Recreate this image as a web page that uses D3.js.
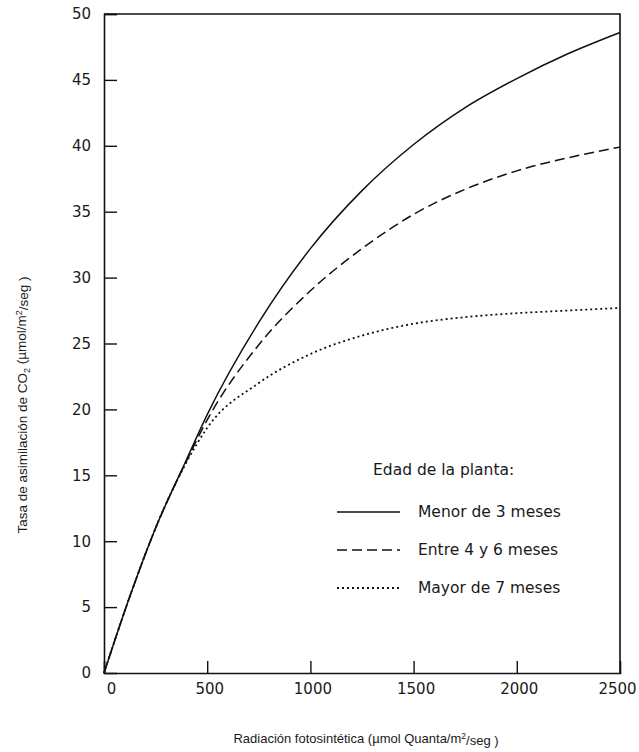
<!DOCTYPE html>
<html>
<head>
<meta charset="utf-8">
<script src="https://cdn.jsdelivr.net/npm/d3@7"></script>
<style>
  body { margin: 0; background: #fff; }
  text { font-family: "Liberation Sans", Arial, sans-serif; fill: #1a1a1a; }
</style>
</head>
<body>
<div id="chart"></div>
<script>
// radiation values (x) and CO2 assimilation for each plant age
var radiacion = [0, 125, 250, 400, 500, 750, 1000, 1250, 1500, 1750, 2000, 2250, 2500];
var menor3 = [0, 5.8, 11, 16.2, 19.6, 26.6, 32.2, 36.6, 40.1, 42.9, 45.1, 47.0, 48.6];
var entre4y6 = [0, 5.8, 11, 16.1, 19.2, 24.9, 29.0, 32.2, 34.8, 36.7, 38.1, 39.1, 39.9];
var mayor7 = [0, 5.8, 11, 16.0, 18.6, 22.0, 24.2, 25.6, 26.5, 27.0, 27.3, 27.5, 27.7];

var xTicks = [0, 500, 1000, 1500, 2000, 2500];
var yTicks = [0, 5, 10, 15, 20, 25, 30, 35, 40, 45, 50];

var seriesNames = ["Menor de 3 meses", "Entre 4 y 6 meses", "Mayor de 7 meses"];
var seriesDash = [null, "10,5", "2,3"];

var width = 639,
    height = 752,
    margin = {top: 14, right: 19, bottom: 79, left: 104};

var svg = d3.select("#chart").append("svg")
    .attr("width", width)
    .attr("height", height);

var g = svg.append("g")
    .attr("transform", "translate(" + margin.left + "," + margin.top + ")");

var w = width - margin.left - margin.right,
    h = height - margin.top - margin.bottom;

var x = d3.scaleLinear().domain([0, 2500]).range([0, w]);
var y = d3.scaleLinear().domain([0, 50]).range([h, 0]);

var tickFont = "'DejaVu Sans', Verdana, sans-serif";

// axes with ticks pointing inward
var yAxis = g.append("g")
    .call(d3.axisLeft(y).tickValues(yTicks).tickFormat(d3.format("d")).tickSize(-13).tickPadding(13));
var xAxis = g.append("g")
    .attr("transform", "translate(0," + h + ")")
    .call(d3.axisBottom(x).tickValues(xTicks).tickFormat(d3.format("d")).tickSize(-12).tickPadding(10));

[yAxis, xAxis].forEach(function(a) {
    a.select(".domain").attr("stroke", "#111").attr("stroke-width", 1.6);
    a.selectAll(".tick line").attr("stroke", "#111").attr("stroke-width", 1.4);
    a.selectAll(".tick text")
        .style("font-family", tickFont)
        .style("font-size", "15px")
        .attr("fill", "#1a1a1a");
});
yAxis.selectAll(".tick").filter(function(d) { return d === 0; }).select("line").remove();
xAxis.selectAll(".tick").filter(function(d) { return d === 0 || d === 2500; }).select("line").remove();
xAxis.selectAll(".tick text").attr("dx", function(d) {
    return d === 0 ? 7 : d === 2500 ? -3 : 2;
});

// top and right frame
g.append("path")
    .attr("d", "M0,0H" + w + "V" + h)
    .attr("fill", "none")
    .attr("stroke", "#111")
    .attr("stroke-width", 1.6);

var series = [menor3, entre4y6, mayor7];

var line = d3.line()
    .x(function(d, i) { return x(radiacion[i]); })
    .y(function(d) { return y(d); })
    .curve(d3.curveMonotoneX);

g.selectAll(".serie")
    .data(series)
    .enter()
    .append("path")
        .attr("class", "serie")
        .attr("d", line)
        .attr("fill", "none")
        .attr("stroke", "#111")
        .attr("stroke-width", function(d, i) { return i === 2 ? 1.8 : 1.5; })
        .attr("stroke-dasharray", function(d, i) { return seriesDash[i]; });

// legend
var legend = svg.append("g").attr("transform", "translate(337,470)");
legend.append("text")
    .attr("x", 36)
    .attr("y", 5)
    .style("font-family", tickFont)
    .style("font-size", "15.5px")
    .text("Edad de la planta:");

var item = legend.selectAll(".item")
    .data(seriesNames)
    .enter()
    .append("g")
        .attr("class", "item")
        .attr("transform", function(d, i) { return "translate(0," + (42 + i * 38) + ")"; });
item.append("line")
    .attr("x1", 0).attr("x2", 63)
    .attr("stroke", "#111")
    .attr("stroke-width", function(d, i) { return i === 2 ? 1.8 : 1.5; })
    .attr("stroke-dasharray", function(d, i) { return seriesDash[i]; });
item.append("text")
    .attr("x", 81)
    .attr("dy", "0.35em")
    .style("font-family", tickFont)
    .style("font-size", "15.5px")
    .text(function(d) { return d; });

// axis titles
var xTitle = svg.append("text")
    .attr("x", 366)
    .attr("y", 743)
    .attr("text-anchor", "middle")
    .style("font-size", "13px");
xTitle.append("tspan").text("Radiación fotosintética (µmol Quanta/m");
xTitle.append("tspan").attr("dy", "-0.45em").style("font-size", "8.5px").text("2");
xTitle.append("tspan").attr("dy", "0.45em").text("/seg )");

var yTitle = svg.append("text")
    .attr("transform", "translate(27,405) rotate(-90)")
    .attr("text-anchor", "middle")
    .style("font-size", "13.5px");
yTitle.append("tspan").text("Tasa de asimilación de CO");
yTitle.append("tspan").attr("dy", "0.3em").style("font-size", "9px").text("2");
yTitle.append("tspan").attr("dy", "-0.3em").text(" (µmol/m");
yTitle.append("tspan").attr("dy", "-0.45em").style("font-size", "9px").text("2");
yTitle.append("tspan").attr("dy", "0.45em").text("/seg )");
</script>
</body>
</html>
